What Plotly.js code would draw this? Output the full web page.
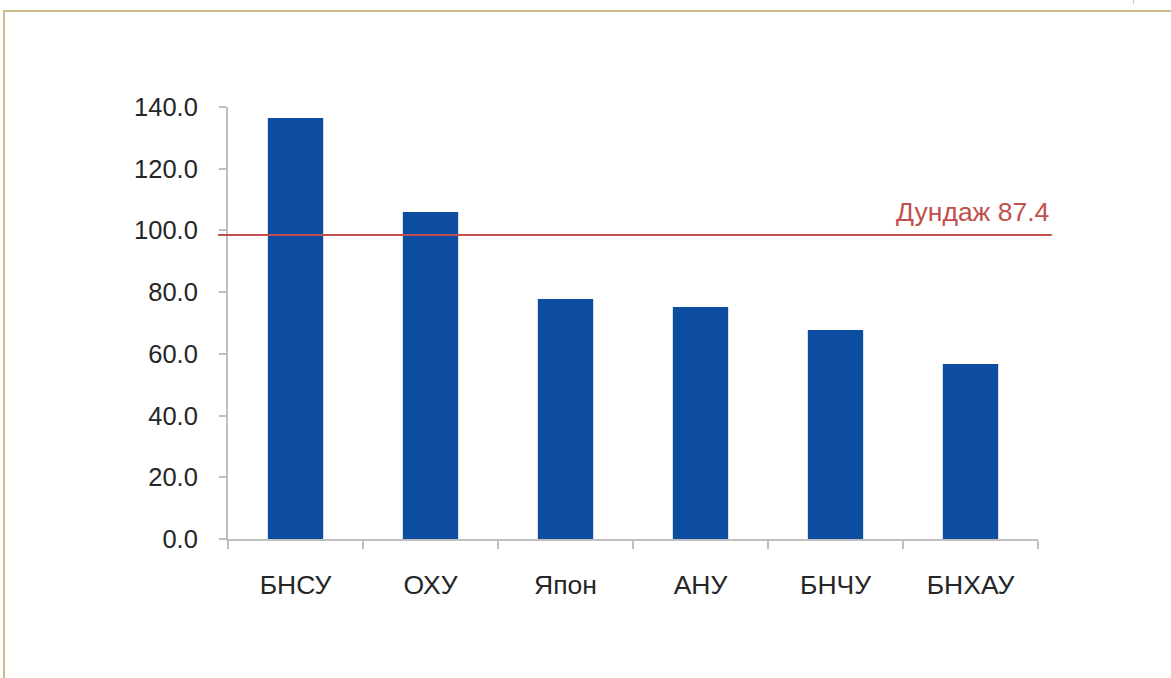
<!DOCTYPE html>
<html>
<head>
<meta charset="utf-8">
<script src="https://cdn.plot.ly/plotly-3.0.1.min.js"></script>
<style>
  html, body { margin: 0; padding: 0; background: #fff; }
  #wrap { position: relative; width: 1171px; height: 678px; }
  #chart { position: absolute; left: 0; top: 0; width: 1171px; height: 678px; }
  #frame { position: absolute; left: 3px; top: 10px; right: 0; bottom: 0;
           border-top: 2px solid #cdbb86; border-left: 2px solid #cdbb86; pointer-events: none; }
  #nick { position: absolute; left: 1133px; top: 0; width: 1px; height: 4px; background: #c8c8c8; }
</style>
</head>
<body>
<div id="wrap">
  <div id="chart"></div>
  <div id="frame"></div>
  <div id="nick"></div>
</div>
<script>
const categories = ["БНСУ", "ОХУ", "Япон", "АНУ", "БНЧУ", "БНХАУ"];
const values = [136.4, 106.0, 77.8, 75.2, 67.7, 56.7];
const avgLineValue = 98.5;
const avgLabel = "Дундаж 87.4";
const yTicks = [0, 20, 40, 60, 80, 100, 120, 140];

const font = "Arial, 'Liberation Sans', sans-serif";

Plotly.newPlot("chart", [{
  type: "bar",
  x: categories,
  y: values,
  marker: { color: "#0c4da2" },
  hoverinfo: "x+y"
}], {
  width: 1171,
  height: 678,
  margin: { l: 228, r: 133, t: 107, b: 139 },
  paper_bgcolor: "rgba(0,0,0,0)",
  plot_bgcolor: "rgba(0,0,0,0)",
  bargap: 0.59,
  showlegend: false,
  font: { family: font, size: 25, color: "#262626" },
  xaxis: {
    type: "category",
    showline: true, linecolor: "#bfbfbf", linewidth: 2,
    ticks: "outside", tickson: "boundaries", ticklen: 8, tickwidth: 2, tickcolor: "#bfbfbf",
    ticklabelstandoff: 21,
    tickfont: { family: font, size: 26.5, color: "#262626" },
    showgrid: false, zeroline: false
  },
  yaxis: {
    range: [0, 140],
    tickvals: yTicks,
    tickformat: ".1f",
    showline: true, linecolor: "#bfbfbf", linewidth: 2,
    ticks: "outside", ticklen: 7, tickwidth: 2, tickcolor: "#bfbfbf",
    ticklabelstandoff: 16,
    tickfont: { family: font, size: 25.5, color: "#262626" },
    showgrid: false, zeroline: false
  },
  shapes: [{
    type: "line", xref: "paper", yref: "y",
    x0: -0.0123, x1: 1.017, y0: avgLineValue, y1: avgLineValue,
    line: { color: "#c0504d", width: 2 }
  }],
  annotations: [{
    xref: "paper", yref: "y",
    x: 1.0155, y: avgLineValue,
    xanchor: "right", yanchor: "bottom", yshift: 6,
    text: avgLabel, showarrow: false,
    font: { family: font, size: 26.5, color: "#c0504d" }
  }]
}, { displayModeBar: false, staticPlot: true });
</script>
</body>
</html>
